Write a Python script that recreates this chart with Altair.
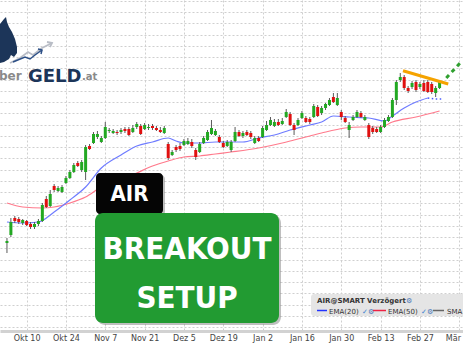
import urllib.parse

import altair as alt
import pandas as pd

# Daily candles, AIR (Airbus) on SMART, 3 Oct 2022 onwards (trading-day index t)
opens = [91.4, 93.0, 96.4, 96.2, 95.4, 95.8, 95.2, 94.6, 95.2, 95.8,
         100.2, 98.8, 102.8, 101.8, 101.6, 103.4, 104.4, 105.6, 107.4, 106.0,
         105.6, 110.8, 111.4, 112.6, 111.6, 112.4, 113.8, 113.4, 113.6, 113.6,
         114.2, 114.2, 113.6, 114.6, 114.8, 114.2, 114.4, 114.8, 114.4, 114.0,
         113.4, 111.2, 109.0, 110.6, 110.8, 111.0, 111.2, 111.6, 110.0, 109.6,
         111.4, 112.0, 113.2, 113.0, 112.6, 111.4, 110.8, 110.0, 111.8, 113.6,
         112.8, 113.6, 113.4, 111.4, 112.4, 112.6, 114.0, 115.0, 114.8, 115.6,
         115.2, 116.6, 117.2, 115.0, 115.0, 116.4, 116.4, 116.2, 116.6, 118.6,
         117.4, 118.4, 119.0, 120.6, 119.0, 117.6, 116.4, 114.0, 116.0, 116.6,
         117.4, 116.0, 115.0, 114.4, 114.2, 113.6, 114.6, 115.8, 116.6, 120.0,
         124.0, 124.6, 122.4, 122.6, 123.6, 122.6, 123.4, 123.6, 123.2, 121.4, 122.4]
closes = [91.8, 95.6, 95.8, 95.6, 96.0, 95.0, 94.6, 95.2, 95.8, 99.0,
          98.6, 101.2, 102.0, 102.4, 102.6, 104.4, 105.6, 107.0, 106.8, 107.6,
          110.6, 110.2, 113.2, 113.2, 112.4, 114.6, 114.0, 113.8, 113.4, 114.0,
          113.8, 113.0, 114.4, 115.2, 113.2, 115.0, 114.6, 114.4, 114.0, 113.6,
          114.4, 108.4, 109.6, 110.0, 110.2, 111.8, 111.8, 110.8, 108.6, 111.2,
          112.4, 113.6, 114.4, 113.8, 111.6, 110.6, 111.6, 111.6, 113.6, 112.8,
          113.4, 113.0, 112.6, 112.4, 111.8, 114.4, 115.0, 116.0, 115.6, 115.0,
          115.8, 117.6, 115.0, 114.0, 116.0, 117.4, 115.6, 115.6, 118.8, 116.8,
          118.4, 119.2, 120.0, 119.6, 120.4, 116.6, 115.6, 115.0, 116.6, 117.6,
          116.6, 116.6, 112.6, 113.6, 113.6, 114.6, 116.0, 116.6, 120.0, 123.6,
          124.6, 122.4, 121.8, 123.4, 122.0, 123.2, 121.8, 121.6, 121.6, 122.4, 123.6]
highs = [92.4, 96.4, 96.8, 96.6, 96.2, 96.0, 95.6, 95.6, 96.2, 99.4,
         100.8, 102.0, 103.2, 102.8, 103.0, 104.8, 106.0, 107.4, 107.8, 108.0,
         111.0, 111.2, 113.6, 113.8, 112.8, 115.6, 114.4, 114.2, 114.0, 114.4,
         114.6, 114.6, 115.0, 115.6, 115.2, 115.4, 115.2, 115.2, 114.8, 114.6,
         114.8, 111.6, 110.0, 111.0, 111.4, 112.2, 112.4, 112.2, 110.4, 111.6,
         112.8, 114.0, 116.0, 114.2, 113.0, 111.8, 112.0, 112.0, 114.6, 114.0,
         113.8, 114.0, 113.8, 112.8, 112.8, 114.8, 115.8, 116.6, 116.2, 116.2,
         116.4, 118.2, 117.6, 115.4, 116.4, 117.8, 116.8, 116.6, 119.2, 119.0,
         118.8, 119.4, 120.4, 121.4, 121.4, 118.0, 116.8, 115.6, 117.0, 118.0,
         117.8, 117.0, 115.4, 114.8, 114.6, 115.0, 116.4, 117.0, 120.4, 124.0,
         125.4, 125.0, 122.8, 123.8, 124.0, 123.6, 124.0, 124.0, 123.6, 122.8, 124.0]
lows = [89.4, 92.6, 95.4, 95.2, 95.0, 94.8, 94.2, 94.2, 94.8, 95.6,
        98.4, 98.6, 101.6, 101.6, 101.4, 103.2, 104.2, 105.4, 106.6, 105.6,
        104.0, 110.0, 111.2, 112.2, 111.4, 112.2, 113.4, 113.2, 113.0, 113.2,
        113.4, 112.8, 113.4, 114.2, 113.0, 114.0, 114.0, 114.0, 113.8, 113.4,
        113.2, 108.0, 108.8, 109.6, 109.8, 110.8, 111.0, 110.4, 108.0, 109.4,
        111.2, 111.8, 113.0, 112.8, 111.4, 110.4, 110.6, 109.6, 111.6, 112.6,
        112.4, 112.8, 112.2, 111.2, 111.6, 112.4, 113.8, 114.8, 114.6, 114.8,
        115.0, 116.4, 114.8, 113.0, 114.8, 116.2, 115.4, 115.2, 116.4, 116.6,
        117.0, 118.0, 118.8, 119.4, 118.8, 116.0, 115.4, 112.4, 115.8, 116.4,
        116.4, 115.8, 112.2, 113.2, 113.4, 113.4, 114.4, 115.6, 116.4, 119.0,
        123.6, 122.0, 121.4, 122.2, 121.6, 122.2, 121.6, 121.4, 121.2, 120.6, 122.2]

# Moving averages (sampled along the curve)
ema20_t = [0, 4, 8, 12, 16, 20, 24, 29, 33, 37, 41, 43, 45, 49, 53, 60, 64, 68,
           72, 77, 80, 83, 87, 92, 96, 98, 101, 104, 107]
ema20_v = [95.6, 95.4, 95.6, 97.6, 100.0, 102.6, 106.4, 109.0, 110.8, 111.6, 112.4,
           111.8, 111.4, 111.4, 111.6, 111.6, 112.4, 113.0, 114.0, 115.0, 115.6,
           116.8, 116.6, 116.4, 115.8, 116.8, 118.4, 119.6, 120.4]
ema20_proj_t = [107, 109, 111]
ema20_proj_v = [120.4, 120.2, 120.2]
ema50_t = [0, 4, 9, 12, 16, 20, 24, 29, 33, 37, 41, 45, 49, 53, 57, 64, 70, 73,
           77, 80, 86, 90, 95, 98, 104, 110]
ema50_v = [99.4, 98.6, 98.4, 98.6, 99.4, 100.6, 102.6, 104.0, 105.4, 106.8, 107.8,
           108.6, 108.8, 109.2, 109.6, 110.4, 111.4, 112.0, 112.8, 113.4, 114.4,
           114.6, 114.6, 115.6, 116.6, 117.8]

# Resistance line over the recent highs and the breakout hint
trend_t = [100.7, 112.2]
trend_v = [125.86, 123.2]
breakout_t = [111.7, 115.2]
breakout_v = [124.4, 127.4]

# Date labels every ten trading days
tick_t = [5, 15, 25, 35, 45, 55, 65, 75, 85, 95, 105, 115]
tick_labels = ["Okt 10", "Okt 24", "Nov 7", "Nov 21", "Dez 5", "Dez 19",
               "Jan 2", "Jan 16", "Jan 30", "Feb 13", "Feb 27", "Mär 13"]

candles = pd.DataFrame({"t": range(len(opens)), "open": opens, "close": closes,
                        "high": highs, "low": lows})
candles["dir"] = ["up" if c >= o else "down" for o, c in zip(opens, closes)]

label_expr = "[" + ",".join(f"'{s}'" for s in tick_labels) + "][round((datum.value-5)/10)]"
grid_vals = [round(128.6 - 2.25 * k, 2) for k in range(-5, 25)]

xscale = alt.Scale(domain=[-0.4975, 114.68], nice=False, zero=False)
yscale = alt.Scale(domain=[73.8, 140.0], nice=False, zero=False)
xaxis = alt.Axis(values=tick_t, labelExpr=label_expr, title=None, grid=True,
                 gridDash=[2, 2], gridColor="#cfcfcf", ticks=False,
                 domainColor="#d2d2d2", domainWidth=3, labelFontSize=8,
                 labelFont="DejaVu Sans", labelColor="#444444", labelPadding=3,
                 labelBound=False, labelFlush=False, labelOverlap=False)
yaxis = alt.Axis(values=grid_vals, title=None, labels=False, ticks=False,
                 domain=False, grid=True, gridDash=[2, 2], gridColor="#cfcfcf")

X = alt.X("t:Q", scale=xscale, axis=xaxis)
Y = alt.Y("v:Q", scale=yscale, axis=yaxis)


def series(ts, vs):
    return alt.Chart(pd.DataFrame({"t": ts, "v": vs}))


ema20 = series(ema20_t, ema20_v).mark_line(
    interpolate="monotone", color="#6f7cff", strokeWidth=1.2).encode(x=X, y=Y)
ema20_proj = series(ema20_proj_t, ema20_proj_v).mark_line(
    color="#4a5cff", strokeWidth=1.6, strokeDash=[1.5, 2.5]).encode(x=X, y=Y)
ema50 = series(ema50_t, ema50_v).mark_line(
    interpolate="monotone", color="#ff7a8c", strokeWidth=1.2).encode(x=X, y=Y)

base = alt.Chart(candles).encode(x=X)
wicks = base.mark_rule(color="#5a5a5a", strokeWidth=1).encode(
    y=alt.Y("low:Q", scale=yscale, axis=yaxis), y2="high:Q")
bodies = base.mark_bar(size=3).encode(
    y=alt.Y("open:Q", scale=yscale, axis=yaxis), y2="close:Q",
    color=alt.Color("dir:N", scale=alt.Scale(domain=["up", "down"],
                                             range=["#22a822", "#e01010"]),
                    legend=None))

trend = series(trend_t, trend_v).mark_line(
    color="#f5a300", strokeWidth=3).encode(x=X, y=Y)
breakout = series(breakout_t, breakout_v).mark_line(
    color="#2fa02f", strokeWidth=3, strokeDash=[4, 4]).encode(x=X, y=Y)

one = pd.DataFrame({"k": [0]})


def note(text, x, y, **kw):
    return alt.Chart(one).mark_text(text=text, **kw).encode(
        x=alt.value(x), y=alt.value(y))


def box(x1, x2, y1, y2, **kw):
    return alt.Chart(one).mark_rect(**kw).encode(
        x=alt.value(x1), x2=alt.value(x2), y=alt.value(y1), y2=alt.value(y2))


def seg(x1, x2, y, color, width=1.5):
    return alt.Chart(one).mark_rule(color=color, strokeWidth=width).encode(
        x=alt.value(x1), x2=alt.value(x2), y=alt.value(y))


# Site logo: bull head with rising arrows, plus the wordmark as text
logo_svg = (
    "<svg xmlns='http://www.w3.org/2000/svg' width='60' height='70' viewBox='0 0 60 70'>"
    "<path d='M0 24 L4 19 L6 17 L7 22 L9 27 L12 32 L15 39 L17 47 L17 53 L14 57 "
    "L11 55 L9 59 L4 62 L0 63 Z' fill='#1c3559'/>"
    "<polyline points='10,63 20,58 28,52 33,55 42,48 52,43' fill='none' "
    "stroke='#b9bdc6' stroke-width='1.8'/>"
    "<polyline points='47,42 52,43 50,47' fill='none' stroke='#b9bdc6' stroke-width='1.8'/>"
    "<polyline points='13,62 25,57 30,59 35,55 42,50' fill='none' "
    "stroke='#2c4f86' stroke-width='1.5'/>"
    "<polyline points='38,49 42,50 41,54' fill='none' stroke='#2c4f86' stroke-width='1.5'/>"
    "</svg>"
)
logo_url = "data:image/svg+xml;charset=utf-8," + urllib.parse.quote(logo_svg)
logo = [
    alt.Chart(one).mark_image(width=60, height=70, align="left", baseline="top").encode(
        x=alt.value(0), y=alt.value(0), url=alt.value(logo_url)),
    note("ber", -1, 80, align="left", baseline="alphabetic", font="DejaVu Sans",
         fontSize=12, fontWeight="bold", color="#8a8a8a"),
    note("GELD", 28, 82, align="left", baseline="alphabetic", font="DejaVu Sans",
         fontSize=18, fontWeight="bold", color="#1c3559"),
    note(".at", 82, 80, align="left", baseline="alphabetic", font="DejaVu Sans",
         fontSize=10, fontWeight="bold", color="#8a8a8a"),
]

# Indicator legend panel
lf = "DejaVu Sans"
legend = [
    box(311, 470, 294, 316, fill="#e5e5e5", cornerRadius=3),
    note("AIR@SMART Verzögert", 317, 303, align="left", baseline="alphabetic",
         font=lf, fontSize=7, fontWeight="bold", color="#333333"),
    note("⚙", 406, 303, align="left", baseline="alphabetic", font=lf,
         fontSize=7, color="#4f7ab8"),
    seg(317, 327, 310.5, "#2233ff"),
    note("EMA(20)", 329, 313.5, align="left", baseline="alphabetic", font=lf,
         fontSize=7, color="#333333"),
    note("✓", 362, 313.5, align="left", baseline="alphabetic", font=lf,
         fontSize=7, color="#3a7fd0"),
    note("⚙", 368, 313.5, align="left", baseline="alphabetic", font=lf,
         fontSize=7, color="#4f7ab8"),
    seg(373, 386, 310.5, "#ee2244"),
    note("EMA(50)", 388, 313.5, align="left", baseline="alphabetic", font=lf,
         fontSize=7, color="#333333"),
    note("✓", 421, 313.5, align="left", baseline="alphabetic", font=lf,
         fontSize=7, color="#3a7fd0"),
    note("⚙", 427, 313.5, align="left", baseline="alphabetic", font=lf,
         fontSize=7, color="#4f7ab8"),
    seg(433, 444, 310.5, "#666666"),
    note("SMA", 447, 313.5, align="left", baseline="alphabetic", font=lf,
         fontSize=7, color="#333333"),
]

# Title badges
narrow = "DejaVu Sans Condensed, Liberation Sans Narrow, sans-serif"
badges = [
    box(98, 165, 175, 216, fill="#000000", opacity=0.25, cornerRadius=4),
    box(96, 163, 173, 214, fill="#050505", cornerRadius=4),
    note("AIR", 129.5, 201, align="center", baseline="alphabetic", font=narrow,
         fontSize=22, fontWeight="bold", color="#ffffff"),
    box(97, 281, 215, 325, fill="#000000", opacity=0.25, cornerRadius=8),
    box(95, 279, 213, 323, fill="#229b32", cornerRadius=8),
    note("BREAKOUT", 187, 259, align="center", baseline="alphabetic", font=narrow,
         fontSize=31, fontWeight="bold", color="#ffffff"),
    note("SETUP", 187, 308, align="center", baseline="alphabetic", font=narrow,
         fontSize=31, fontWeight="bold", color="#ffffff"),
]

chart = alt.layer(
    ema50, ema20, ema20_proj, wicks, bodies, trend, breakout,
    *logo, *legend, *badges
).properties(
    width=463, height=331,
    autosize=alt.AutoSizeParams(type="none"),
    padding={"left": 0, "top": 0, "right": 0, "bottom": 17},
    background="#ffffff",
).configure_view(strokeWidth=0)

chart.save("out.html", embed_options={"renderer": "svg", "actions": False})
